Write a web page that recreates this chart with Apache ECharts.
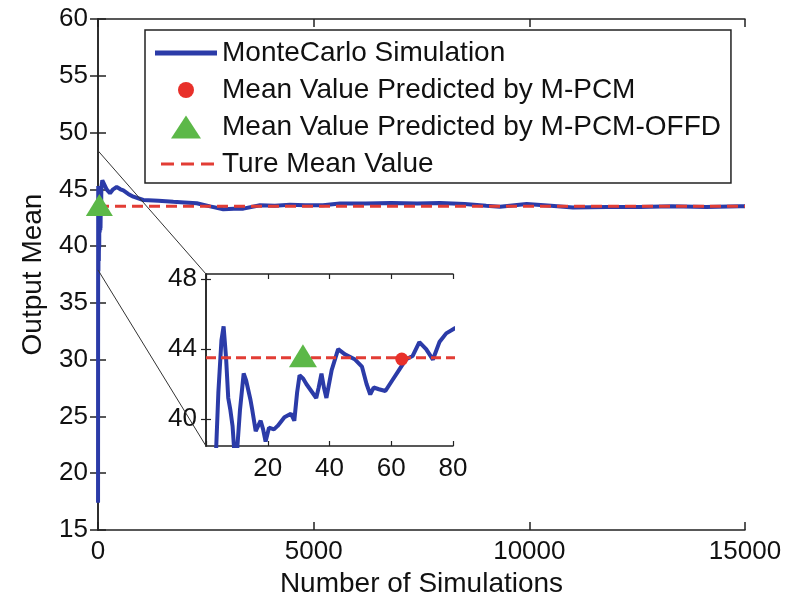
<!DOCTYPE html>
<html><head><meta charset="utf-8">
<script src="https://cdn.jsdelivr.net/npm/echarts@6/dist/echarts.min.js"></script>
<style>html,body{margin:0;padding:0;background:#fff}#c{width:790px;height:598px}</style>
</head><body><div id="c"></div>
<script>
// ---------- data ----------
const seriesNames = ['MonteCarlo Simulation', 'Mean Value Predicted by M-PCM', 'Mean Value Predicted by M-PCM-OFFD', 'Ture Mean Value'];
const xAxisTitle = 'Number of Simulations';
const yAxisTitle = 'Output Mean';

// running mean of Monte Carlo simulation, first 80 runs [n, mean]
const mcEarly = [
  [1,17.4],[2,31],[3,37],[4,41.5],[5,44.5],[5.7,45.3],[6.5,43.5],[7.2,41.2],[7.9,40.5],[8.6,39.6],[9.3,37.8],
  [10,38.0],[11,40.5],[12.2,42.6],[13,42.2],[14.4,41.1],[15,40.5],[16.1,39.3],[17.7,39.9],[18.5,39.4],
  [19.3,38.7],[20.4,39.5],[22,39.4],[23.2,39.6],[25.4,40.1],[27.5,40.3],[28.6,39.9],[29.5,41.5],[30.3,42.5],
  [31.5,42.3],[32.5,42.0],[34.1,41.6],[35.7,41.2],[36.5,41.8],[37.4,42.6],[38.2,41.8],[39.0,41.2],[40.7,42.8],
  [42.8,44.0],[45,43.7],[48.3,43.4],[50.5,43.0],[52,42.0],[53.2,41.4],[54.3,41.8],[56,41.7],[58.1,41.6],
  [60.3,42.2],[62.5,42.8],[64.7,43.4],[66.9,43.6],[69.1,44.4],[71.3,44.0],[73.5,43.4],[75.6,44.4],[77.8,44.9],[80.6,45.2]
];
// running mean after 80 runs [n, mean]
const mcLate = [
  [100,45.8],[124,45.7],[200,45.0],[278,44.65],[350,45.0],[433,45.2],[520,45.0],[587,44.9],[700,44.6],
  [819,44.35],[1050,44.06],[1400,44.0],[1746,43.9],[2000,43.85],[2287,43.77],[2600,43.5],[2905,43.24],
  [3150,43.3],[3369,43.3],[3756,43.6],[4100,43.55],[4451,43.65],[4800,43.6],[5216,43.6],[5610,43.75],
  [6200,43.75],[6800,43.8],[7400,43.75],[7929,43.8],[8500,43.7],[9000,43.55],[9320,43.47],[9938,43.7],
  [10500,43.55],[11012,43.4],[11800,43.45],[12566,43.45],[13300,43.5],[14100,43.45],[14884,43.5],[15000,43.5]
];
const trueMean = 43.5;
const trueMeanRange = [0, 15000];
const pcmPoint = [[63.4, 43.43]];
const offdPoint = [[31.4, 43.62]];

const mainXTicks = { min: 0, max: 15000, interval: 5000 };
const mainYTicks = { min: 15, max: 60, interval: 5 };
const insetXTicks = { min: 0, max: 80, interval: 20 };
const insetYRange = { min: 38.45, max: 48.3 };
const insetYTicks = [40, 44, 48];
const zoomFrom = [[0, 48.4], [0, 37.9]];   // where the zoom guide lines leave the main axes

// ---------- build ----------
const mcData = mcEarly.concat(mcLate);
const trueMeanLine = trueMeanRange.map(x => [x, trueMean]);

const FONT = 'Liberation Sans, Arial, Helvetica, sans-serif';
const BLUE = '#2b3ba8', RED = '#e23d35', GREEN = '#5cb848', DOT = '#e8302a', AX = '#222';

function axLine() { return { show: true, lineStyle: { color: AX, width: 1.5 } }; }
function lbl(extra) { return Object.assign({ color: '#111', fontFamily: FONT, fontSize: 26, formatter: v => String(v) }, extra || {}); }

const chart = echarts.init(document.getElementById('c'), null, { renderer: 'canvas' });

const option = {
  animation: false,
  backgroundColor: '#fff',
  grid: [
    { left: 98, top: 19, width: 647, height: 511, containLabel: false, outerBoundsMode: 'none' },
    { left: 206, top: 274, width: 247, height: 172, containLabel: false, outerBoundsMode: 'none', show: true, backgroundColor: '#fff', borderWidth: 0 }
  ],
  xAxis: [
    { type: 'value', gridIndex: 0, position: 'bottom', min: mainXTicks.min, max: mainXTicks.max, interval: mainXTicks.interval,
      axisLine: axLine(), splitLine: { show: false }, axisTick: { inside: true, length: 8, lineStyle: { color: AX, width: 1.5 } },
      axisLabel: lbl({ margin: 9 }),
      name: xAxisTitle, nameLocation: 'middle', nameGap: 40, nameTextStyle: { color: '#111', fontFamily: FONT, fontSize: 28 } },
    { type: 'value', gridIndex: 0, position: 'top', min: mainXTicks.min, max: mainXTicks.max, interval: mainXTicks.interval,
      axisLine: axLine(), splitLine: { show: false }, axisTick: { inside: true, length: 8, lineStyle: { color: AX, width: 1.5 } },
      axisLabel: { show: false } },
    { type: 'value', gridIndex: 1, position: 'bottom', min: insetXTicks.min, max: insetXTicks.max, interval: insetXTicks.interval,
      axisLine: axLine(), splitLine: { show: false }, axisTick: { inside: true, length: 5, lineStyle: { color: AX, width: 1.2 } },
      axisLabel: lbl({ margin: 10, formatter: v => (v === 0 ? '' : String(v)) }) },
    { type: 'value', gridIndex: 1, position: 'top', min: insetXTicks.min, max: insetXTicks.max, interval: insetXTicks.interval,
      axisLine: axLine(), splitLine: { show: false }, axisTick: { inside: true, length: 5, lineStyle: { color: AX, width: 1.2 } },
      axisLabel: { show: false } }
  ],
  yAxis: [
    { type: 'value', gridIndex: 0, position: 'left', min: mainYTicks.min, max: mainYTicks.max, interval: mainYTicks.interval,
      axisLine: axLine(), splitLine: { show: false }, axisTick: { inside: true, length: 8, lineStyle: { color: AX, width: 1.5 } },
      axisLabel: lbl({ margin: 10 }),
      name: yAxisTitle, nameLocation: 'middle', nameGap: 51, nameTextStyle: { color: '#111', fontFamily: FONT, fontSize: 28 } },
    { type: 'value', gridIndex: 0, position: 'right', min: mainYTicks.min, max: mainYTicks.max, interval: mainYTicks.interval,
      axisLine: axLine(), splitLine: { show: false }, axisTick: { inside: true, length: 8, lineStyle: { color: AX, width: 1.5 } },
      axisLabel: { show: false } },
    { type: 'value', gridIndex: 1, position: 'left', min: insetYRange.min, max: insetYRange.max,
      axisLine: axLine(), splitLine: { show: false },
      axisTick: { inside: true, length: 5, customValues: insetYTicks, lineStyle: { color: AX, width: 1.2 } },
      axisLabel: lbl({ margin: 9, customValues: insetYTicks }) },
    { type: 'value', gridIndex: 1, position: 'right', min: insetYRange.min, max: insetYRange.max,
      axisLine: axLine(), splitLine: { show: false },
      axisTick: { inside: true, length: 5, customValues: insetYTicks, lineStyle: { color: AX, width: 1.2 } },
      axisLabel: { show: false } }
  ],
  legend: {
    orient: 'vertical', left: 145, top: 30,
    padding: [9, 10, 5, 10], itemGap: 9, itemWidth: 62, itemHeight: 24,
    backgroundColor: '#fff', borderColor: AX, borderWidth: 1.5,
    textStyle: { color: '#111', fontFamily: FONT, fontSize: 28, lineHeight: 28 },
    selectedMode: false,
    data: [
      { name: seriesNames[0], icon: 'path://M0,0 M62,24 M0,9.5 L62,9.5 L62,14.5 L0,14.5 Z', itemStyle: { color: BLUE } },
      { name: seriesNames[1], icon: 'path://M0,0 M62,24 M31,4 A8,8 0 1,1 31,20 A8,8 0 1,1 31,4 Z', itemStyle: { color: DOT } },
      { name: seriesNames[2], icon: 'path://M0,0 M62,24 M31,0.5 L46,23.5 L16,23.5 Z', itemStyle: { color: GREEN } },
      { name: seriesNames[3], icon: 'path://M0,0 M62,24 M6,10.5 L19,10.5 L19,13.5 L6,13.5 Z M26,10.5 L39,10.5 L39,13.5 L26,13.5 Z M46,10.5 L59,10.5 L59,13.5 L46,13.5 Z', itemStyle: { color: RED } }
    ]
  },
  series: [
    { name: seriesNames[0], type: 'line', xAxisIndex: 0, yAxisIndex: 0, data: mcData, symbol: 'none', clip: true,
      lineStyle: { color: BLUE, width: 4 }, itemStyle: { color: BLUE }, z: 2 },
    { name: seriesNames[3], type: 'line', xAxisIndex: 0, yAxisIndex: 0, data: trueMeanLine, symbol: 'none', clip: true,
      lineStyle: { color: RED, width: 3, type: [11, 6] }, itemStyle: { color: RED }, z: 3 },
    { name: seriesNames[2], type: 'scatter', xAxisIndex: 0, yAxisIndex: 0, data: offdPoint, symbol: 'triangle', symbolSize: [27, 22],
      itemStyle: { color: GREEN, opacity: 1 }, z: 5 },

    { name: seriesNames[0], type: 'line', xAxisIndex: 2, yAxisIndex: 2, data: mcData, symbol: 'none', clip: true,
      lineStyle: { color: BLUE, width: 4 }, itemStyle: { color: BLUE }, z: 2 },
    { name: seriesNames[3], type: 'line', xAxisIndex: 2, yAxisIndex: 2, data: trueMeanLine, symbol: 'none', clip: true,
      lineStyle: { color: RED, width: 3, type: [10, 5] }, itemStyle: { color: RED }, z: 3 },
    { name: seriesNames[1], type: 'scatter', xAxisIndex: 2, yAxisIndex: 2, data: pcmPoint, symbol: 'circle', symbolSize: 13,
      itemStyle: { color: DOT, opacity: 1 }, z: 5 },
    { name: seriesNames[2], type: 'scatter', xAxisIndex: 2, yAxisIndex: 2, data: offdPoint, symbol: 'triangle', symbolSize: [28, 23],
      itemStyle: { color: GREEN, opacity: 1 }, z: 6 }
  ]
};
chart.setOption(option);

// zoom guide lines from main axes to inset corners
const cornerTop = chart.convertToPixel({ xAxisIndex: 2, yAxisIndex: 2 }, [insetXTicks.min, insetYRange.max]);
const cornerBot = chart.convertToPixel({ xAxisIndex: 2, yAxisIndex: 2 }, [insetXTicks.min, insetYRange.min]);
const fromTop = chart.convertToPixel({ xAxisIndex: 0, yAxisIndex: 0 }, zoomFrom[0]);
const fromBot = chart.convertToPixel({ xAxisIndex: 0, yAxisIndex: 0 }, zoomFrom[1]);
chart.setOption({
  graphic: [
    { type: 'line', z: 10, shape: { x1: fromTop[0], y1: fromTop[1], x2: cornerTop[0], y2: cornerTop[1] }, style: { stroke: '#333', lineWidth: 1 } },
    { type: 'line', z: 10, shape: { x1: fromBot[0], y1: fromBot[1], x2: cornerBot[0], y2: cornerBot[1] }, style: { stroke: '#333', lineWidth: 1 } }
  ]
});
</script>
</body></html>
